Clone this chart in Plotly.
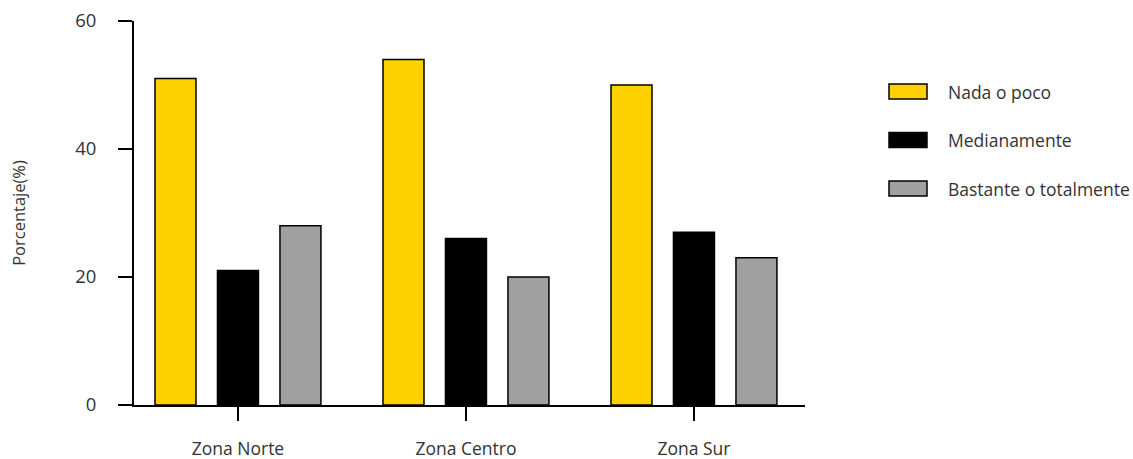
import plotly.graph_objects as go

categories = ["Zona Norte", "Zona Centro", "Zona Sur"]
series_names = ["Nada o poco", "Medianamente", "Bastante o totalmente"]
nada_o_poco = [51, 54, 50]
medianamente = [21, 26, 27]
bastante = [28, 20, 23]
y_ticks = [0, 20, 40, 60]

colors = ["#FFD000", "#000000", "#A0A0A0"]
values = [nada_o_poco, medianamente, bastante]

FONT = "'Open Sans', 'Noto Sans', sans-serif"
TXT = "#333333"

W, H = 1133, 459
PL, PR, PT, PB = 134, 805, 21, 405  # plot area on page

fig = go.Figure()
for i, (name, vals) in enumerate(zip(series_names, values)):
    fig.add_trace(go.Bar(
        x=categories, y=vals, name=name,
        marker=dict(color=colors[i], line=dict(color="#000000", width=1.5)),
        showlegend=False,
    ))

# custom legend with wide rectangular swatches
def px_x(p):
    return (p - PL) / (PR - PL)

def px_y(p):
    return (PB - p) / (PB - PT)

shapes = []
annotations = []
for i, name in enumerate(series_names):
    cy = 91.5 + 48.5 * i
    shapes.append(dict(type="rect", xref="paper", yref="paper",
                       x0=px_x(889), x1=px_x(927), y0=px_y(cy + 7.5), y1=px_y(cy - 7.5),
                       fillcolor=colors[i], line=dict(color="#000", width=1.5)))
    annotations.append(dict(xref="paper", yref="paper", x=px_x(946), y=px_y(cy),
                            xanchor="left", yanchor="middle", showarrow=False,
                            text=name, font=dict(size=17.5, color=TXT, family=FONT)))

fig.update_layout(
    width=W, height=H,
    margin=dict(l=PL, r=W - PR, t=PT, b=H - PB, autoexpand=False),
    plot_bgcolor="white", paper_bgcolor="white",
    barmode="group", bargap=0.178, bargroupgap=0.344,
    font=dict(family=FONT, color=TXT, size=17),
    showlegend=False,
    shapes=shapes, annotations=annotations,
    xaxis=dict(range=[-0.456, 2.487], showline=True, linecolor="#000", linewidth=2,
               ticks="outside", ticklen=14, tickwidth=2, tickcolor="#000",
               ticklabelstandoff=13, showgrid=False, zeroline=False, automargin=False,
               tickfont=dict(size=17.5, color=TXT)),
    yaxis=dict(range=[0, 60], tickvals=y_ticks, showline=True, linecolor="#000", linewidth=2,
               ticks="outside", ticklen=14, tickwidth=2, tickcolor="#000",
               ticklabelstandoff=18, showgrid=False, zeroline=False, automargin=False,
               tickfont=dict(size=18.5, color=TXT),
               title=dict(text="Porcentaje(%)", font=dict(size=16.5, color=TXT), standoff=45)),
)
fig.write_html("out.html", config={"displayModeBar": False},
               post_script="document.body.style.margin='0';")
